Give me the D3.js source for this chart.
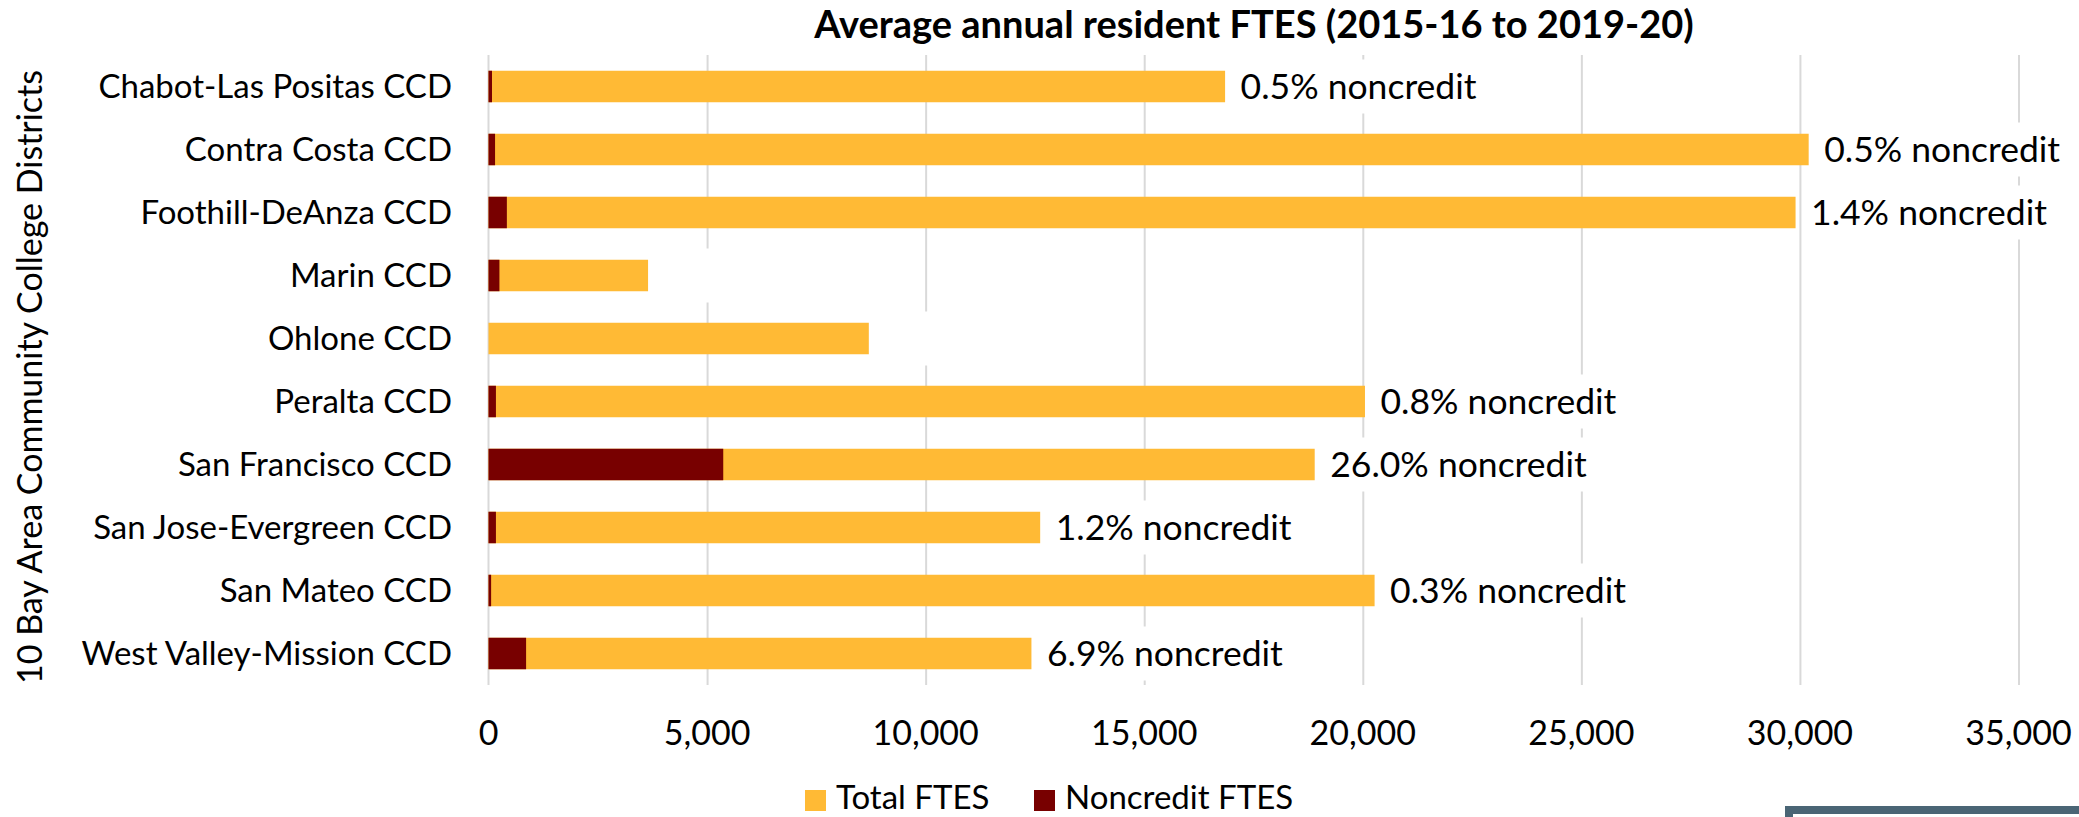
<!DOCTYPE html>
<html>
<head>
<meta charset="utf-8">
<script src="https://cdn.jsdelivr.net/npm/d3@7"></script>
<style>
  html, body { margin: 0; padding: 0; background: #fff; }
  svg text { font-family: Lato, 'Open Sans', sans-serif; fill: #000; }
</style>
</head>
<body>
<div id="chart"></div>
<script>
const districts = [
    'Chabot-Las Positas CCD',
    'Contra Costa CCD',
    'Foothill-DeAnza CCD',
    'Marin CCD',
    'Ohlone CCD',
    'Peralta CCD',
    'San Francisco CCD',
    'San Jose-Evergreen CCD',
    'San Mateo CCD',
    'West Valley-Mission CCD'
];
const totalFtes = [16850, 30200, 29900, 3650, 8700, 20050, 18900, 12620, 20270, 12420];
const noncreditFtes = [80, 150, 420, 250, 0, 170, 5370, 170, 60, 860];
const noncreditLabels = [
    '0.5% noncredit', '0.5% noncredit', '1.4% noncredit', '', '',
    '0.8% noncredit', '26.0% noncredit', '1.2% noncredit', '0.3% noncredit', '6.9% noncredit'
];
const xTicks = [0, 5000, 10000, 15000, 20000, 25000, 30000, 35000];
const seriesNames = ['Total FTES', 'Noncredit FTES'];

const W = 2079, H = 817;
const gold = '#FFBA35', maroon = '#780000', gridColor = '#d9d9d9';

const margin = {left: 488.5, right: W - 2018.5, top: 55, bottom: H - 685};
const width = W - margin.left - margin.right,
      height = H - margin.top - margin.bottom;

const rows = districts.map((d, i) => ({
    label: d,
    total: totalFtes[i],
    noncredit: noncreditFtes[i],
    pct: noncreditLabels[i]
}));

const svg = d3.select('#chart')
    .append('svg')
    .attr('width', W)
    .attr('height', H);

const g = svg.append('g')
    .attr('transform', 'translate(' + margin.left + ',' + margin.top + ')');

const xAxis = d3.scaleLinear()
    .domain([0, 35000])
    .range([0, width]);

const yAxis = d3.scaleBand()
    .domain(districts)
    .range([0, height])
    .paddingInner(0.5)
    .paddingOuter(0.25);

// gridlines
g.append('g')
    .attr('class', 'grid')
    .call(d3.axisBottom(xAxis).tickValues(xTicks.slice(1)).tickSize(height).tickFormat(''))
    .call(s => s.select('.domain').remove())
    .selectAll('line')
    .attr('stroke', gridColor)
    .attr('stroke-width', 2);

// category axis line
g.append('line')
    .attr('x1', xAxis(0)).attr('x2', xAxis(0))
    .attr('y1', 0).attr('y2', height)
    .attr('stroke', gridColor)
    .attr('stroke-width', 2);

// total bars
g.selectAll('.bar-total')
    .data(rows)
    .enter()
    .append('rect')
    .attr('class', 'bar-total')
    .attr('x', xAxis(0))
    .attr('y', d => yAxis(d.label))
    .attr('width', d => xAxis(d.total) - xAxis(0))
    .attr('height', yAxis.bandwidth())
    .attr('fill', gold);

// noncredit bars, drawn over the totals
g.selectAll('.bar-noncredit')
    .data(rows.filter(d => d.noncredit > 0))
    .enter()
    .append('rect')
    .attr('class', 'bar-noncredit')
    .attr('x', xAxis(0))
    .attr('y', d => yAxis(d.label))
    .attr('width', d => xAxis(d.noncredit) - xAxis(0))
    .attr('height', yAxis.bandwidth())
    .attr('fill', maroon);

// data labels with white boxes (they hide the gridlines behind them)
const labelGroups = g.selectAll('.bar-value')
    .data(rows)
    .enter()
    .append('g')
    .attr('class', 'bar-value')
    .attr('transform', d => 'translate(' + (xAxis(d.total) + 15.5) + ',' + (yAxis(d.label) + yAxis.bandwidth() / 2) + ')');

labelGroups.append('rect')
    .attr('fill', '#fff');

labelGroups.append('text')
    .attr('x', 0)
    .attr('dy', '0.36em')
    .attr('font-size', '35.5px')
    .text(d => d.pct);

labelGroups.each(function(d) {
    const t = d3.select(this).select('text').node();
    const w = d.pct ? t.getComputedTextLength() : 50;
    d3.select(this).select('rect')
        .attr('x', -9)
        .attr('y', -27)
        .attr('width', w + 18)
        .attr('height', 54);
});

// category labels
g.selectAll('.bar-label')
    .data(rows)
    .enter()
    .append('text')
    .attr('class', 'bar-label')
    .attr('x', -36.5)
    .attr('y', d => yAxis(d.label) + yAxis.bandwidth() / 2)
    .attr('dy', '0.36em')
    .attr('text-anchor', 'end')
    .attr('font-size', '33px')
    .text(d => d.label);

// value axis tick labels
g.selectAll('.tick-label')
    .data(xTicks)
    .enter()
    .append('text')
    .attr('class', 'tick-label')
    .attr('x', d => xAxis(d))
    .attr('y', 745 - margin.top)
    .attr('text-anchor', 'middle')
    .attr('font-size', '34px')
    .text(d => d3.format(',')(d));

// title
svg.append('text')
    .attr('x', 1254)
    .attr('y', 38)
    .attr('text-anchor', 'middle')
    .attr('font-size', '38px')
    .attr('font-weight', 'bold')
    .text('Average annual resident FTES (2015-16 to 2019-20)');

// y axis title
svg.append('text')
    .attr('transform', 'translate(42,377) rotate(-90)')
    .attr('text-anchor', 'middle')
    .attr('font-size', '34px')
    .text('10 Bay Area Community College Districts');

// legend
const legendX = [805, 1034];
const legendColors = [gold, maroon];
const legend = svg.selectAll('.legend-item')
    .data(seriesNames)
    .enter()
    .append('g')
    .attr('class', 'legend-item')
    .attr('transform', (d, i) => 'translate(' + legendX[i] + ',790)');

legend.append('rect')
    .attr('width', 21)
    .attr('height', 21)
    .attr('fill', (d, i) => legendColors[i]);

legend.append('text')
    .attr('x', 31)
    .attr('y', 19)
    .attr('font-size', '33px')
    .text(d => d);

// edge of a framed box peeking in at the bottom right
svg.append('rect')
    .attr('x', 1789)
    .attr('y', 810)
    .attr('width', 400)
    .attr('height', 100)
    .attr('fill', '#fff')
    .attr('stroke', '#4a6575')
    .attr('stroke-width', 8);
</script>
</body>
</html>
